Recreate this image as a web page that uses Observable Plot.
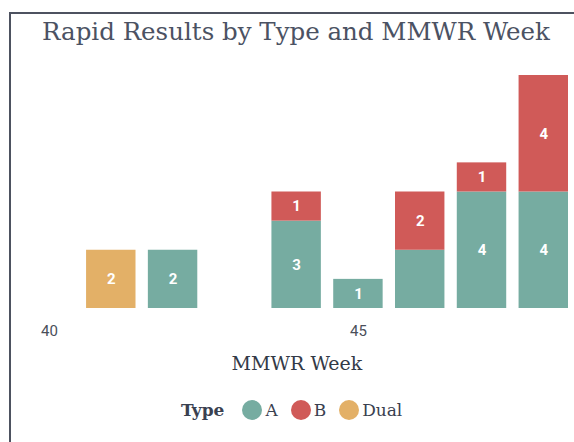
<!DOCTYPE html>
<html>
<head>
<meta charset="utf-8">
<script src="https://cdn.jsdelivr.net/npm/d3@7"></script>
<script src="https://cdn.jsdelivr.net/npm/@observablehq/plot@0.6"></script>
<style>
  html, body { margin: 0; padding: 0; background: #fff; }
  #wrap { position: relative; width: 574px; height: 442px; overflow: hidden; }
  #frame { position: absolute; left: 9px; top: 12px; width: 700px; height: 600px;
           border-left: 2px solid #4d5260; border-top: 2px solid #4d5260; box-sizing: border-box; }
  #title { position: absolute; left: 10px; width: 572px; top: 17px; text-align: center;
           font-family: "DejaVu Serif", serif; font-size: 24.5px; color: #4b5263; white-space: nowrap; }
  #plot { position: absolute; left: 0; top: 0; }
  #xlabel { position: absolute; left: 10px; width: 574px; top: 352px; text-align: center;
            font-family: "DejaVu Serif", serif; font-size: 19px; color: #333a47; }
  #legend { position: absolute; left: 181px; top: 400px; display: flex; align-items: center;
            font-family: "DejaVu Serif", serif; font-size: 17px; color: #3a4150; }
  #legend .ttl { font-weight: bold; margin-right: 18px; }
  #legend .sw { width: 20px; height: 20px; border-radius: 50%; display: inline-block; margin-right: 3px; }
  #legend .it { display: flex; align-items: center; margin-right: 13px; }
</style>
</head>
<body>
<div id="wrap">
  <div id="frame"></div>
  <div id="title">Rapid Results by Type and MMWR Week</div>
  <div id="plot"></div>
  <div id="xlabel">MMWR Week</div>
  <div id="legend"></div>
</div>
<script>
// Data
const weeks = [41, 42, 44, 45, 46, 47, 48];
const countA = [0, 2, 3, 1, 2, 4, 4];
const countB = [0, 0, 1, 0, 2, 1, 4];
const countDual = [2, 0, 0, 0, 0, 0, 0];
const types = ["A", "B", "Dual"];
const typeColors = ["#76aca1", "#d05a58", "#e3b067"];
const xTicks = [40, 45];
// segments shown without a value label in the original
const unlabeled = [{week: 46, type: "A"}];

const series = {A: countA, B: countB, Dual: countDual};
const data = [];
for (const t of types) {
  weeks.forEach((w, i) => {
    const v = series[t][i];
    if (v > 0) data.push({week: w, type: t, count: v,
      label: unlabeled.some(u => u.week === w && u.type === t) ? "" : String(v)});
  });
}

const chart = Plot.plot({
  width: 574,
  height: 380,
  marginTop: 75,
  marginBottom: 72,
  marginLeft: 49,
  marginRight: 6,
  x: {type: "linear", domain: [40, 48.4], axis: null},
  y: {domain: [0, 8], axis: null},
  color: {domain: types, range: typeColors},
  style: {background: "transparent"},
  marks: [
    Plot.rectY(data, Plot.stackY({
      x1: d => d.week - 0.4, x2: d => d.week + 0.4,
      y: "count", z: "type", fill: "type", order: types
    })),
    Plot.text(data, Plot.stackY({
      x: "week", y: "count", z: "type", text: "label", order: types,
      fill: "white", fontWeight: "bold", fontSize: 15,
      fontFamily: "Roboto, sans-serif"
    })),
    Plot.axisX({ticks: xTicks, tickSize: 0, tickPadding: 17, fontSize: 15,
      fontFamily: "Roboto, sans-serif", color: "#4a4f5a", label: null})
  ]
});
document.getElementById("plot").appendChild(chart);

const lg = document.getElementById("legend");
const ttl = document.createElement("span");
ttl.className = "ttl"; ttl.textContent = "Type";
lg.appendChild(ttl);
types.forEach((t, i) => {
  const it = document.createElement("span"); it.className = "it";
  const sw = document.createElement("span"); sw.className = "sw"; sw.style.background = typeColors[i];
  const tx = document.createElement("span"); tx.textContent = t;
  it.appendChild(sw); it.appendChild(tx); lg.appendChild(it);
});
</script>
</body>
</html>
